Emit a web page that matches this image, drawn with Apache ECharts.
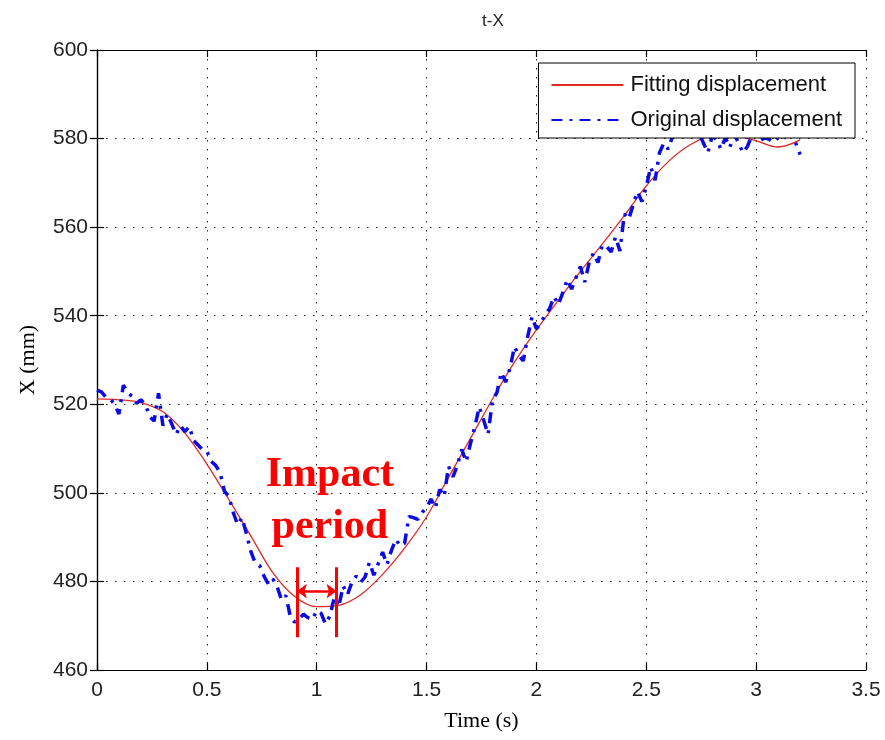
<!DOCTYPE html>
<html>
<head>
<meta charset="utf-8">
<title>t-X</title>
<script src="https://cdn.jsdelivr.net/npm/echarts@6/dist/echarts.min.js"></script>
<style>
  html, body { margin: 0; padding: 0; background: #ffffff; }
  #chart { width: 885px; height: 740px; }
</style>
</head>
<body>
<div id="chart"></div>
<script>
// Fitted displacement curve (time in s, X in mm)
const fitTime = [0, 0.1, 0.2, 0.3, 0.4, 0.5, 0.6, 0.7, 0.8, 0.9, 1.0, 1.1, 1.2, 1.3, 1.4, 1.5,
  1.6, 1.7, 1.8, 1.9, 2.0, 2.1, 2.2, 2.3, 2.4, 2.5, 2.6, 2.7, 2.8, 2.9, 3.0, 3.1, 3.2];
const fitX = [521.2, 521.0, 520.4, 518.3, 513.5, 506.5, 498.5, 490.3, 482.0, 476.6, 474.3, 474.6,
  477.0, 481.6, 487.5, 494.6, 503.5, 512.3, 521.2, 529.5, 536.8, 543.5, 550.0, 556.2, 562.6,
  569.3, 574.8, 578.6, 580.6, 580.7, 579.5, 578.1, 579.7];

// Measured displacement, sampled every 0.02 s from t = 0
const sampleStep = 0.02;
const originalX = [
  523.2, 522.8, 521.6, 521.2, 520.0, 517.8, 524.3, 522.6, 521.8, 520.2,
  521.0, 520.0, 517.2, 516.2, 522.5, 515.2, 517.8, 515.6, 513.2, 515.2,
  513.8, 515.0, 511.8, 510.8, 509.8, 509.4, 507.1, 506.2, 504.6, 500.4,
  499.2, 495.6, 492.8, 494.4, 490.8, 486.8, 484.2, 483.6, 481.2, 479.4,
  480.6, 478.8, 475.8, 476.8, 472.0, 470.8, 471.6, 472.6, 471.8, 471.4,
  473.4, 472.8, 470.4, 472.2, 476.4, 474.2, 479.0, 477.0, 479.8, 481.2,
  479.8, 481.0, 484.3, 481.4, 484.0, 486.6, 483.8, 487.0, 489.5, 488.0,
  488.6, 494.7, 494.4, 494.0, 495.6, 496.6, 498.6, 496.6, 500.8, 499.2,
  506.0, 503.6, 506.2, 509.8, 507.0, 511.2, 515.0, 519.4, 516.4, 513.2,
  521.0, 522.6, 527.2, 525.0, 528.2, 533.0, 531.0, 529.8, 535.2, 539.8,
  537.0, 538.4, 540.2, 541.6, 544.3, 542.5, 545.2, 548.2, 546.0, 548.6,
  551.1, 547.6, 552.0, 554.2, 552.0, 556.0, 555.6, 554.4, 557.8, 554.6,
  563.0, 561.8, 565.0, 568.0, 565.8, 569.2, 573.6, 570.6, 576.8, 579.0,
  577.6, 580.6, 582.0, 579.8, 581.6, 582.0, 580.6, 581.2, 579.0, 576.8,
  580.6, 579.8, 577.6, 580.2, 578.0, 581.0, 579.0, 576.8, 578.2, 580.6,
  581.0, 579.6, 580.2, 579.8, 579.2, 580.2, 579.6, 581.0, 580.6, 579.0,
  576.4
];

// Axis ticks
const xTicks = [0, 0.5, 1, 1.5, 2, 2.5, 3, 3.5];
const yTicks = [460, 480, 500, 520, 540, 560, 580, 600];

// Impact period annotation (time span and bracket heights in mm)
const impactSpan = [0.91, 1.09];
const impactBracket = [483.2, 467.4];
const impactArrowY = 477.8;
const impactLabelAt = [1.06, 498.2];

const fitData = fitTime.map((t, i) => [t, fitX[i]]);
const originalData = originalX.map((v, i) => [+(i * sampleStep).toFixed(2), v]);

const axisCommon = {
  type: 'value',
  axisLine: { show: true, lineStyle: { color: '#000', width: 1.2 } },
  axisTick: { show: true, inside: true, length: 7, lineStyle: { color: '#000', width: 1.2 } }
};

const chart = echarts.init(document.getElementById('chart'), null, { renderer: 'canvas' });

chart.setOption({
  backgroundColor: '#ffffff',
  animation: false,
  title: {
    text: 't-X',
    left: 477,
    top: 8,
    textStyle: { fontFamily: 'Liberation Sans', fontSize: 17, fontWeight: 'normal', color: '#222' }
  },
  grid: { left: 97, right: 19, top: 50, bottom: 70, containLabel: false },
  legend: {
    orient: 'vertical',
    right: 30,
    top: 63,
    backgroundColor: '#ffffff',
    borderColor: '#000',
    borderWidth: 1,
    borderRadius: 0,
    padding: [11, 13, 7, 12],
    itemGap: 13,
    itemWidth: 72,
    itemHeight: 14,
    itemStyle: { opacity: 0 },
    textStyle: { fontFamily: 'Liberation Sans', fontSize: 22, color: '#111', padding: [0, 0, 0, 2] },
    data: ['Fitting displacement', 'Original displacement']
  },
  xAxis: [
    Object.assign({}, axisCommon, {
      position: 'bottom',
      min: 0, max: 3.5, interval: 0.5,
      name: 'Time (s)',
      nameLocation: 'middle',
      nameGap: 40,
      nameTextStyle: { fontFamily: 'Liberation Serif', fontSize: 22, color: '#000' },
      axisLabel: {
        margin: 10,
        fontFamily: 'Liberation Sans', fontSize: 21, color: '#222',
        formatter: v => (xTicks.indexOf(v) >= 0 ? String(v) : '')
      },
      splitLine: { show: true, lineStyle: { color: '#222', width: 1, type: [1.5, 7.5] } }
    }),
    Object.assign({}, axisCommon, {
      position: 'top',
      min: 0, max: 3.5, interval: 0.5,
      axisLabel: { show: false },
      splitLine: { show: false }
    })
  ],
  yAxis: [
    Object.assign({}, axisCommon, {
      position: 'left',
      min: 460, max: 600, interval: 20,
      name: 'X (mm)',
      nameLocation: 'middle',
      nameGap: 58,
      nameTextStyle: { fontFamily: 'Liberation Serif', fontSize: 22, color: '#000' },
      axisLabel: {
        margin: 9,
        fontFamily: 'Liberation Sans', fontSize: 21, color: '#222',
        formatter: v => (yTicks.indexOf(v) >= 0 ? String(v) : '')
      },
      splitLine: { show: true, lineStyle: { color: '#222', width: 1, type: [1.5, 7.5] } }
    }),
    Object.assign({}, axisCommon, {
      position: 'right',
      min: 460, max: 600, interval: 20,
      axisLabel: { show: false },
      splitLine: { show: false }
    })
  ],
  series: [
    {
      name: 'Fitting displacement',
      type: 'line',
      xAxisIndex: 0,
      yAxisIndex: 0,
      data: fitData,
      smooth: 0.35,
      symbol: 'none',
      color: '#dd2a24',
      lineStyle: { color: '#dd2a24', width: 1.3 },
      z: 2,
      markLine: {
        silent: true,
        symbol: 'none',
        animation: false,
        label: { show: false },
        lineStyle: { color: '#ff0000', width: 3, type: 'solid' },
        data: [
          [{ coord: [impactSpan[0], impactBracket[0]] }, { coord: [impactSpan[0], impactBracket[1]] }],
          [{ coord: [impactSpan[1], impactBracket[0]] }, { coord: [impactSpan[1], impactBracket[1]] }],
          [
            { coord: [impactSpan[0], impactArrowY], symbol: 'arrow', symbolSize: [11, 10], lineStyle: { width: 2.5 } },
            { coord: [impactSpan[1], impactArrowY], symbol: 'arrow', symbolSize: [11, 10] }
          ]
        ]
      },
      markPoint: {
        silent: true,
        symbol: 'circle',
        symbolSize: 1,
        itemStyle: { color: 'rgba(0,0,0,0)' },
        label: {
          show: true,
          position: 'inside',
          formatter: 'Impact\nperiod',
          fontFamily: 'Liberation Serif',
          fontWeight: 'bold',
          fontSize: 42,
          lineHeight: 52,
          color: '#ff0000',
          align: 'center'
        },
        data: [{ coord: impactLabelAt }]
      }
    },
    {
      name: 'Original displacement',
      type: 'line',
      xAxisIndex: 0,
      yAxisIndex: 0,
      data: originalData,
      symbol: 'none',
      color: '#0a0ae6',
      lineStyle: { color: '#0a0ae6', width: 3.5, type: [11, 7, 3, 7], cap: 'butt' },
      z: 3
    }
  ]
});
</script>
</body>
</html>
